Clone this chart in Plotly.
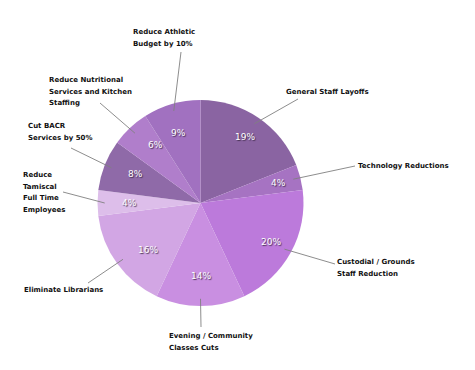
import math
import plotly.graph_objects as go

categories = [
    "General Staff Layoffs",
    "Technology Reductions",
    "Custodial / Grounds<br>Staff Reduction",
    "Evening / Community<br>Classes Cuts",
    "Eliminate Librarians",
    "Reduce<br>Tamiscal<br>Full Time<br>Employees",
    "Cut BACR<br>Services by 50%",
    "Reduce Nutritional<br>Services and Kitchen<br>Staffing",
    "Reduce Athletic<br>Budget by 10%",
]
values = [19, 4, 20, 14, 16, 4, 8, 6, 9]
colors = ["#8a64a2", "#a673c2", "#bc7adb", "#c98fe1", "#d2a6e4",
          "#ddbeea", "#8f6aa8", "#b07ecb", "#a171c0"]

# layout (pixels, window coordinates)
W, H = 475, 370
OFF = 8  # page body margin
CX, CY, R = 200.5, 203.0, 103.0
label_pos = [(284, 92), (356, 166), (335, 262), (167, 336), (22, 290),
             (21, 175), (26, 126), (47, 80), (131, 32)]
tail_pos = [(298, 99), (355, 166), (335, 264), (201, 327), (88, 283),
            (63, 192), (71, 148), (100, 103), (181, 52)]
LINE_H = 11.5


def px2paper(px, py):
    return (px - OFF) / W, 1 - (py - OFF) / H


d0 = px2paper(CX - R, CY + R)
d1 = px2paper(CX + R, CY - R)

fig = go.Figure(go.Pie(
    labels=[c.replace("<br>", " ") for c in categories],
    values=values,
    sort=False,
    direction="clockwise",
    rotation=0,
    textinfo="none",
    hoverinfo="label+percent",
    marker=dict(colors=colors, line=dict(width=0)),
    domain=dict(x=[d0[0], d1[0]], y=[d0[1], d1[1]]),
    showlegend=False,
))

annotations = []
shapes = []
total = sum(values)
cum = 0
for i, v in enumerate(values):
    mid = (cum + v / 2) / total * 2 * math.pi
    cum += v
    px = CX + 0.777 * R * math.sin(mid)
    py = CY - 0.777 * R * math.cos(mid)
    x, y = px2paper(px, py)
    annotations.append(dict(
        x=x, y=y, xref="paper", yref="paper", showarrow=False,
        text=f"{round(v / total * 100)}%",
        font=dict(family="DejaVu Sans", size=9, color="white",
                  shadow="1px 1px 1px rgba(60,40,70,0.9)"),
    ))
    tx = CX + 0.93 * R * math.sin(mid)
    ty = CY - 0.93 * R * math.cos(mid)
    x0, y0 = px2paper(tx, ty)
    x1, y1 = px2paper(*tail_pos[i])
    shapes.append(dict(type="line", xref="paper", yref="paper",
                       x0=x0, y0=y0, x1=x1, y1=y1,
                       line=dict(color="#808080", width=0.9)))
    lx, ly = label_pos[i]
    for j, line in enumerate(categories[i].split("<br>")):
        ax_, ay_ = px2paper(lx, ly + j * LINE_H)
        annotations.append(dict(
            x=ax_, y=ay_, xref="paper", yref="paper", showarrow=False,
            xanchor="left", yanchor="middle", text=line,
            font=dict(family="DejaVu Sans", size=7, color="#111111",
                      weight="bold"),
        ))

fig.update_layout(
    width=W, height=H,
    margin=dict(l=0, r=0, t=0, b=0),
    paper_bgcolor="white",
    plot_bgcolor="white",
    annotations=annotations,
    shapes=shapes,
)

fig.write_html("out.html")
